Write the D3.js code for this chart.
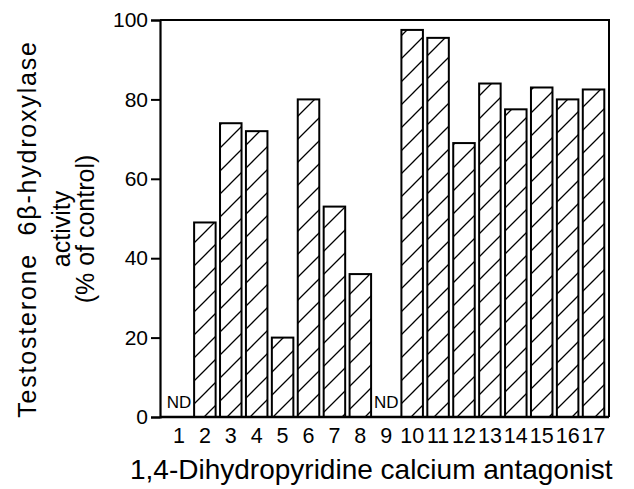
<!DOCTYPE html>
<html>
<head>
<meta charset="utf-8">
<script src="https://cdn.jsdelivr.net/npm/d3@7"></script>
<style>
  body { margin: 0; background: #fff; }
  text { font-family: "Liberation Sans", Arial, sans-serif; fill: #000; white-space: pre; }
</style>
</head>
<body>
<div id="chart"></div>
<script>
var width = 634, height = 489;

// data (null = not detected)
var antagonists = ["1","2","3","4","5","6","7","8","9","10","11","12","13","14","15","16","17"];
var activity = [null, 49, 74, 72, 20, 80, 53, 36, null, 97.5, 95.5, 69, 84, 77.5, 83, 80, 82.5];
var yTicks = [0, 20, 40, 60, 80, 100];
var yTitleLines = ["Testosterone  6\u03B2-hydroxylase", "activity", "(% of control)"];
var xTitle = "1,4-Dihydropyridine calcium antagonist";

var plot = {left: 160, right: 609, top: 20, bottom: 417};

var svg = d3.select("#chart").append("svg")
  .attr("width", width)
  .attr("height", height);

// hatch fill
var defs = svg.append("defs");
defs.append("pattern")
  .attr("id", "hatch")
  .attr("patternUnits", "userSpaceOnUse")
  .attr("width", 23).attr("height", 23)
  .append("path")
  .attr("d", "M0,23 L23,0 M-6,6 L6,-6 M17,29 L29,17")
  .attr("stroke", "#000")
  .attr("stroke-width", 1.3);

var x = d3.scaleBand()
  .domain(antagonists)
  .range([166, 606.5])
  .paddingInner(0.17)
  .paddingOuter(0.085);

var y = d3.scaleLinear()
  .domain([0, 100])
  .range([plot.bottom, plot.top]);

// bars
var rows = antagonists.map(function(c, i){ return {cat: c, val: activity[i]}; });

svg.selectAll(".bar")
  .data(rows.filter(function(d){ return d.val != null; }))
  .enter().append("rect")
  .attr("class", "bar")
  .attr("x", function(d){ return x(d.cat); })
  .attr("y", function(d){ return y(d.val); })
  .attr("width", x.bandwidth())
  .attr("height", function(d){ return y(0) - y(d.val); })
  .attr("fill", "url(#hatch)")
  .attr("stroke", "#000")
  .attr("stroke-width", 2);

// ND markers
svg.selectAll(".nd")
  .data(rows.filter(function(d){ return d.val == null; }))
  .enter().append("text")
  .attr("class", "nd")
  .attr("x", function(d){ return x(d.cat) + x.bandwidth() / 2; })
  .attr("y", 408)
  .attr("text-anchor", "middle")
  .attr("font-size", 17)
  .text("ND");

// frame (top + right)
svg.append("path")
  .attr("d", "M" + plot.left + "," + plot.top + "H" + plot.right + "V" + plot.bottom)
  .attr("fill", "none")
  .attr("stroke", "#000")
  .attr("stroke-width", 2);

// y axis
var yAxis = svg.append("g")
  .attr("transform", "translate(" + plot.left + ",0)")
  .call(d3.axisLeft(y).tickValues(yTicks).tickSize(9).tickPadding(3));
yAxis.select(".domain").attr("stroke-width", 2.2);
yAxis.selectAll(".tick line").attr("stroke-width", 2);
yAxis.selectAll(".tick text")
  .attr("font-size", 21)
  .attr("font-family", "Liberation Sans, Arial, sans-serif");

// x axis
var xAxis = svg.append("g")
  .attr("transform", "translate(0," + plot.bottom + ")")
  .call(d3.axisBottom(x).tickSize(0).tickPadding(11));
xAxis.select(".domain")
  .attr("d", "M" + plot.left + ",0H" + plot.right)
  .attr("stroke-width", 2.6);
xAxis.selectAll(".tick text")
  .attr("font-size", 21.5)
  .attr("font-family", "Liberation Sans, Arial, sans-serif");

// axis titles
svg.append("text")
  .attr("x", 130)
  .attr("y", 479)
  .attr("text-anchor", "start")
  .attr("font-size", 28)
  .text(xTitle);

var yTitleX = [36, 70, 94];
var yTitleSpacing = [1.8, 0, 0];
svg.selectAll(".ytitle")
  .data(yTitleLines)
  .enter().append("text")
  .attr("class", "ytitle")
  .attr("transform", function(d, i){ return "translate(" + yTitleX[i] + ",229) rotate(-90)"; })
  .attr("text-anchor", "middle")
  .attr("font-size", 25)
  .attr("letter-spacing", function(d, i){ return yTitleSpacing[i]; })
  .text(function(d){ return d; });
</script>
</body>
</html>
